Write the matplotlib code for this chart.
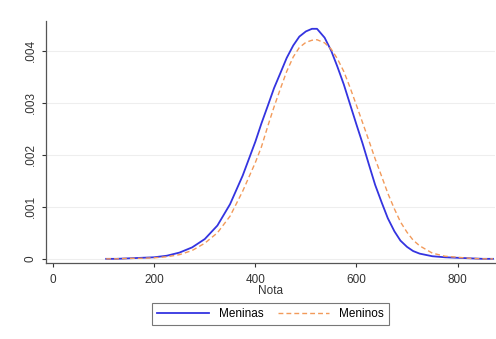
import matplotlib
matplotlib.use("Agg")
import matplotlib.pyplot as plt

nota = [105, 125, 150, 175, 200, 225, 250, 275, 300, 325, 350, 375, 400, 412, 425,
        437, 450, 462, 475, 487, 500, 512, 522, 537, 550, 562, 575, 587, 600, 612,
        625, 637, 650, 662, 675, 687, 700, 712, 725, 750, 775, 800, 825, 850, 870]
meninas = [0.0, 0.0, 0.00001, 0.00002, 0.00003, 0.00006, 0.00012, 0.00022, 0.00038,
           0.00064, 0.00105, 0.00160, 0.00225, 0.00260, 0.00295,
           0.00328, 0.00358, 0.00386, 0.00410, 0.00427, 0.00437, 0.00442, 0.00442,
           0.00425, 0.00400, 0.00370, 0.00335, 0.00298, 0.00258, 0.00222,
           0.00180, 0.00142, 0.00108, 0.00078, 0.00053, 0.00035, 0.00023, 0.00015,
           0.00010, 0.00005, 0.00003, 0.00002, 0.00001, 0.0, 0.0]
meninos = [0.0, 0.0, 0.00001, 0.00001, 0.00002, 0.00004, 0.00008, 0.00016, 0.00030,
           0.00050, 0.00082, 0.00130, 0.00185, 0.00215, 0.00256,
           0.00292, 0.00328, 0.00360, 0.00388, 0.00406, 0.00416, 0.00420, 0.00421,
           0.00415, 0.00403, 0.00385, 0.00360, 0.00330, 0.00295, 0.00262,
           0.00226, 0.00192, 0.00158, 0.00126, 0.00096, 0.00071, 0.00051, 0.00036,
           0.00025, 0.00011, 0.00005, 0.00003, 0.00001, 0.0, 0.0]

xticks = [0, 200, 400, 600, 800]
yticks = [0, 0.001, 0.002, 0.003, 0.004]
yticklabels = ["0", ".001", ".002", ".003", ".004"]

plt.rcParams['font.family'] = ['Liberation Sans', 'DejaVu Sans']
fig = plt.figure(figsize=(4.96, 3.39), dpi=100)
fig.patch.set_facecolor("white")
ax = fig.add_axes([46/496, 1 - 263/339, (495 - 46)/496, (263 - 21)/339])
ax.plot(nota, meninas, color="#3434e0", lw=1.3, label="Meninas")
ax.plot(nota, meninos, color="#f29a5a", lw=1.0, ls=(0, (3.5, 2.2)), label="Meninos")

ax.set_xlim(-14, 874)
ax.set_ylim(-0.00008, 0.00457)
ax.set_xticks(xticks)
ax.set_yticks(yticks)
ax.set_yticklabels(yticklabels, rotation=90, va="center")
ax.tick_params(labelsize=8.5, colors="#333333", length=3, width=0.8)
ax.tick_params(axis="x", pad=5)
ax.grid(axis="y", color="#eeeeee", lw=0.8)
ax.set_axisbelow(True)
for s in ["top", "right"]:
    ax.spines[s].set_visible(False)
for s in ["left", "bottom"]:
    ax.spines[s].set_color("#555555")
    ax.spines[s].set_linewidth(0.9)
ax.set_xlabel("Nota", fontsize=8.5, color="#333333", labelpad=-1)

leg = ax.legend(loc="upper center", bbox_to_anchor=(0.5, -0.14), ncol=2, fontsize=8.5,
                frameon=True, fancybox=False, edgecolor="#555555", handlelength=4.4,
                columnspacing=1.2, borderpad=0.45)
leg.get_frame().set_linewidth(0.8)

fig.savefig("out.png", dpi=100)
